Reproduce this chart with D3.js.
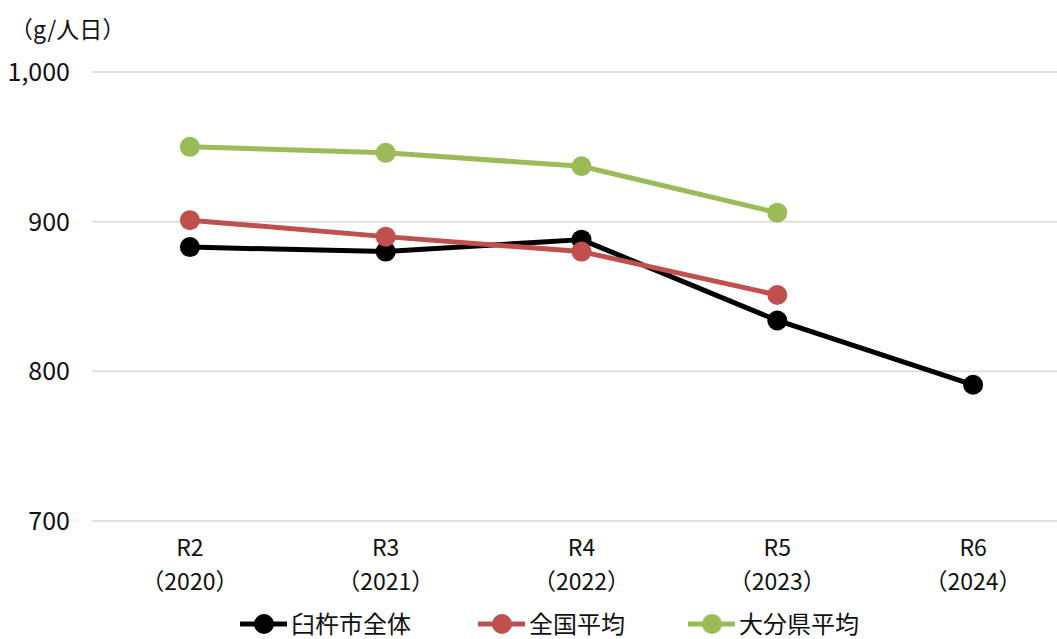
<!DOCTYPE html>
<html>
<head>
<meta charset="utf-8">
<script src="https://cdn.jsdelivr.net/npm/d3@7"></script>
<style>
  html, body { margin: 0; padding: 0; background: #fff; }
  svg text { font-family: "Noto Sans CJK JP", "Noto Sans", sans-serif; fill: #111; }
</style>
</head>
<body>
<svg id="chart" width="1057" height="639"></svg>
<script>
const categorias = ["R2", "R3", "R4", "R5", "R6"];
const anos = ["（2020）", "（2021）", "（2022）", "（2023）", "（2024）"];
const usuki = [883, 880, 888, 834, 791];
const nacional = [901, 890, 880, 851, null];
const oita = [950, 946, 937, 906, null];
const ticksY = [700, 800, 900, 1000];

const series = [
  { nome: "臼杵市全体", valores: usuki, cor: "#000000" },
  { nome: "全国平均", valores: nacional, cor: "#C0504D" },
  { nome: "大分県平均", valores: oita, cor: "#9BBB59" }
];

const W = 1057;
const plot = { left: 92, right: 1071, top: 72, bottom: 521 };

const x = d3.scalePoint().domain(categorias).range([plot.left, plot.right]).padding(0.5);
const y = d3.scaleLinear().domain([700, 1000]).range([plot.bottom, plot.top]);

const svg = d3.select("#chart");

// grade
svg.append("g")
  .selectAll("line")
  .data(ticksY)
  .join("line")
  .attr("x1", plot.left).attr("x2", W)
  .attr("y1", (d) => y(d)).attr("y2", (d) => y(d))
  .attr("stroke", "#d9d9d9").attr("stroke-width", 1.5);

// eixo y
svg.append("g")
  .selectAll("text")
  .data(ticksY)
  .join("text")
  .attr("x", 70)
  .attr("y", (d) => y(d))
  .attr("dy", "0.36em")
  .attr("text-anchor", "end")
  .attr("font-size", "25px")
  .text((d) => d3.format(",")(d));

svg.append("text")
  .attr("x", 10).attr("y", 38)
  .attr("font-size", "23px")
  .text("（g/人日）");

// eixo x
const gx = svg.append("g");
categorias.forEach((c, i) => {
  gx.append("text")
    .attr("x", x(c)).attr("y", 556)
    .attr("text-anchor", "middle")
    .attr("font-size", "23px")
    .text(c);
  gx.append("text")
    .attr("x", x(c)).attr("y", 590)
    .attr("text-anchor", "middle")
    .attr("font-size", "23px")
    .text(anos[i]);
});

// linhas
const linha = d3.line()
  .defined((d) => d.v !== null)
  .x((d) => x(d.c))
  .y((d) => y(d.v));

series.forEach((s) => {
  const pts = categorias.map((c, i) => ({ c, v: s.valores[i] }));
  svg.append("path")
    .datum(pts)
    .attr("fill", "none")
    .attr("stroke", s.cor)
    .attr("stroke-width", 5)
    .attr("stroke-linejoin", "round")
    .attr("d", linha);
  svg.append("g")
    .selectAll("circle")
    .data(pts.filter((d) => d.v !== null))
    .join("circle")
    .attr("cx", (d) => x(d.c))
    .attr("cy", (d) => y(d.v))
    .attr("r", 10)
    .attr("fill", s.cor);
});

// legenda
const legX = [240, 478, 688];
const legY = 624;
series.forEach((s, i) => {
  const g = svg.append("g").attr("transform", `translate(${legX[i]},${legY})`);
  g.append("line").attr("x1", 0).attr("x2", 47).attr("y1", 0).attr("y2", 0)
    .attr("stroke", s.cor).attr("stroke-width", 5);
  g.append("circle").attr("cx", 24).attr("cy", 0).attr("r", 10).attr("fill", s.cor);
  g.append("text").attr("x", 51).attr("y", 0).attr("dy", "0.36em")
    .attr("font-size", "24px")
    .text(s.nome);
});
</script>
</body>
</html>
